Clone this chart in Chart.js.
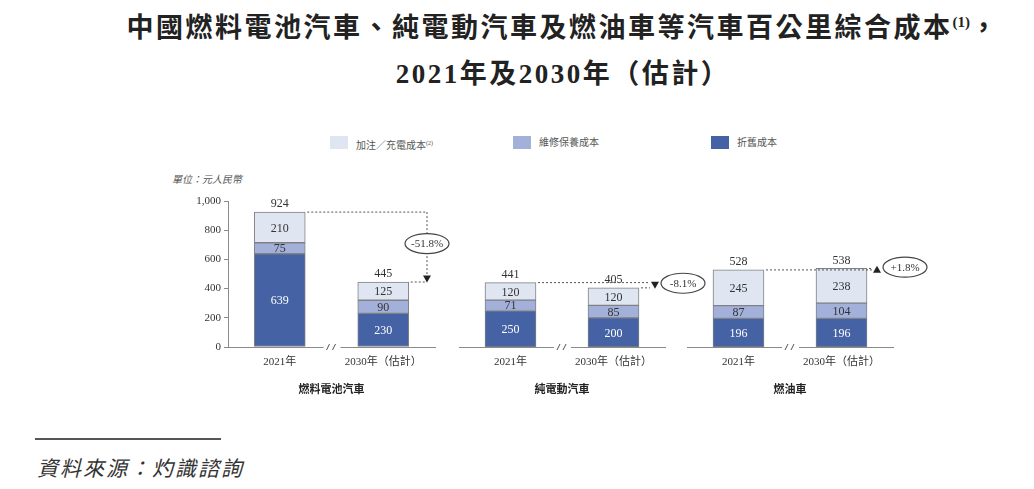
<!DOCTYPE html>
<html>
<head>
<meta charset="utf-8">
<script src="https://cdn.jsdelivr.net/npm/chart.js@4.4.1/dist/chart.umd.min.js"></script>
<style>
    body {
        margin: 0;
        width: 1034px;
        height: 489px;
        background: #fff;
        position: relative;
        overflow: hidden;
        font-family: "Liberation Serif", "Noto Sans CJK TC", serif;
        color: #222;
    }
    .title {
        position: absolute;
        left: 0;
        width: 1126px;
        text-align: center;
        font-size: 27px;
        font-weight: bold;
        letter-spacing: 2.5px;
        white-space: nowrap;
    }
    .title sup {
        font-size: 15px;
        letter-spacing: 0;
    }
    .legendItem {
        position: absolute;
        top: 136px;
        font-size: 10px;
        color: #555;
        white-space: nowrap;
        line-height: 14px;
    }
    .legendItem span.box {
        display: inline-block;
        width: 18px;
        height: 13px;
        vertical-align: top;
        margin-right: 8px;
    }
    .legendItem sup {
        font-size: 6px;
    }
    #unit {
        position: absolute;
        left: 172px;
        top: 171px;
        font-size: 10px;
        font-style: italic;
        color: #555;
    }
    canvas {
        position: absolute;
        top: 180px;
    }
    #footLine {
        position: absolute;
        left: 35px;
        top: 438px;
        width: 186px;
        height: 1.5px;
        background: #555;
    }
    #source {
        position: absolute;
        left: 37px;
        top: 452px;
        font-size: 21px;
        font-style: italic;
        letter-spacing: 2px;
        color: #333;
    }
</style>
</head>
<body>
<div class="title" style="top: 6px">中國燃料電池汽車、純電動汽車及燃油車等汽車百公里綜合成本<sup>(1)</sup>，</div>
<div class="title" style="top: 52px">2021年及2030年（估計）</div>

<div class="legendItem" style="left: 330px"><span class="box" style="background: #dfe5f1"></span>加注／充電成本<sup>(2)</sup></div>
<div class="legendItem" style="left: 513px"><span class="box" style="background: #a3b1da"></span>維修保養成本</div>
<div class="legendItem" style="left: 711px"><span class="box" style="background: #4563a4"></span>折舊成本</div>

<div id="unit">單位：元人民幣</div>

<canvas id="chart1" width="300" height="225" style="left: 160px"></canvas>
<canvas id="chart2" width="255" height="225" style="left: 459px"></canvas>
<canvas id="chart3" width="250" height="225" style="left: 687px"></canvas>

<div id="footLine"></div>
<div id="source">資料來源：灼識諮詢</div>

<script>
// values per vehicle type: [2021, 2030 estimate]
const yearLabels = ["2021年", "2030年（估計）"];
const groupNames = ["燃料電池汽車", "純電動汽車", "燃油車"];
const depreciationCost = [[639, 230], [250, 200], [196, 196]];
const maintenanceCost = [[75, 90], [71, 85], [87, 104]];
const refuelCost = [[210, 125], [120, 120], [245, 238]];
const totalCost = [[924, 445], [441, 405], [528, 538]];
const changeLabels = ["-51.8%", "-8.1%", "+1.8%"];
const yMax = 1000;
const yStep = 200;

const COLORS = {
    depreciation: "#4563a4",
    maintenance: "#a3b1da",
    refuel: "#dfe5f1",
    border: "#7f8185",
    axis: "#8a8a8a",
    text: "#333",
};

const NUM_FONT = '"Liberation Serif", "Noto Sans CJK TC", serif';

// layout of each panel (canvas pixels)
const panels = [
    { id: "chart1", showY: true, padRight: 25, arrow: "vertical", arrowOffset: 8 },
    { id: "chart2", showY: false, padRight: 49, arrow: "side", arrowOffset: 10 },
    { id: "chart3", showY: false, padRight: 44, arrow: "side", arrowOffset: 16 },
];

function drawOval(ctx, x, y, text) {
    ctx.save();
    ctx.setLineDash([]);
    ctx.beginPath();
    ctx.ellipse(x, y, 22, 10, 0, 0, Math.PI * 2);
    ctx.fillStyle = "#fff";
    ctx.fill();
    ctx.strokeStyle = "#444";
    ctx.lineWidth = 1.2;
    ctx.stroke();
    ctx.fillStyle = COLORS.text;
    ctx.font = `11px ${NUM_FONT}`;
    ctx.textAlign = "center";
    ctx.textBaseline = "middle";
    ctx.fillText(text, x, y + 1);
    ctx.restore();
}

function dottedLine(ctx, x1, y1, x2, y2) {
    ctx.save();
    ctx.setLineDash([2, 2]);
    ctx.strokeStyle = "#555";
    ctx.lineWidth = 1;
    ctx.beginPath();
    ctx.moveTo(x1, y1);
    ctx.lineTo(x2, y2);
    ctx.stroke();
    ctx.restore();
}

function triangle(ctx, x, y, down) {
    const d = down ? 1 : -1;
    ctx.save();
    ctx.fillStyle = "#222";
    ctx.beginPath();
    ctx.moveTo(x - 4, y - 3.5 * d);
    ctx.lineTo(x + 4, y - 3.5 * d);
    ctx.lineTo(x, y + 3.5 * d);
    ctx.closePath();
    ctx.fill();
    ctx.restore();
}

const costLabelsPlugin = {
    id: "costLabels",
    afterDatasetsDraw(chart) {
        const ctx = chart.ctx;
        const g = chart.options.plugins.costLabels.group;
        const panel = panels[g];
        const area = chart.chartArea;

        // segment values
        ctx.save();
        ctx.font = `12px ${NUM_FONT}`;
        ctx.textAlign = "center";
        ctx.textBaseline = "middle";
        chart.data.datasets.forEach((ds, i) => {
            const meta = chart.getDatasetMeta(i);
            meta.data.forEach((bar, j) => {
                ctx.fillStyle = ds.labelColor;
                ctx.fillText(ds.data[j], bar.x, (bar.y + bar.base) / 2 + 1);
            });
        });

        // totals above bars
        const topBars = chart.getDatasetMeta(chart.data.datasets.length - 1).data;
        ctx.fillStyle = COLORS.text;
        topBars.forEach((bar, j) => {
            ctx.fillText(totalCost[g][j], bar.x, bar.y - 8);
        });
        ctx.restore();

        // axis break "//"
        const bx = (topBars[0].x + topBars[1].x) / 2;
        const by = area.bottom;
        ctx.save();
        ctx.fillStyle = "#fff";
        ctx.fillRect(bx - 8, by - 3, 17, 6);
        ctx.strokeStyle = "#555";
        ctx.lineWidth = 1;
        ctx.beginPath();
        ctx.moveTo(bx - 5, by + 3);
        ctx.lineTo(bx - 2, by - 3);
        ctx.moveTo(bx + 1, by + 3);
        ctx.lineTo(bx + 4, by - 3);
        ctx.stroke();
        ctx.restore();

        // change annotation
        const b1 = topBars[0];
        const b2 = topBars[1];
        const y1 = b1.y;
        const y2 = b2.y;
        const ax = area.right - panel.arrowOffset;
        const down = totalCost[g][1] < totalCost[g][0];
        if (panel.arrow === "vertical") {
            dottedLine(ctx, b1.x + b1.width / 2 + 2, y1, ax, y1);
            dottedLine(ctx, b2.x + b2.width / 2 + 2, y2, ax, y2);
            dottedLine(ctx, ax, y1, ax, y2 - 6);
            triangle(ctx, ax, y2 - 3, down);
            drawOval(ctx, ax, y1 + (y2 - y1) * 0.45, changeLabels[g]);
        } else {
            dottedLine(ctx, b1.x + b1.width / 2 + 2, y1, ax - 5, y1);
            dottedLine(ctx, b2.x + b2.width / 2 + 2, y2, ax - 5, y2);
            const my = (y1 + y2) / 2;
            triangle(ctx, ax, my, down);
            drawOval(ctx, ax + 28, my - 2, changeLabels[g]);
        }
    },
};

function createPanel(panel, g) {
    const canvas = document.getElementById(panel.id);
    const yAxis = {
        display: panel.showY,
        stacked: true,
        min: 0,
        max: yMax,
        ticks: {
            stepSize: yStep,
            padding: 3,
            color: COLORS.text,
            font: { size: 11, family: NUM_FONT },
        },
        grid: {
            drawOnChartArea: false,
            drawTicks: true,
            tickLength: 4,
            color: COLORS.axis,
        },
        border: { display: true, color: COLORS.axis, width: 1 },
    };
    if (panel.showY) {
        yAxis.afterFit = (scale) => {
            scale.width = 68;
        };
    }
    return new Chart(canvas, {
        type: "bar",
        data: {
            labels: yearLabels,
            datasets: [
                {
                    label: "折舊成本",
                    data: depreciationCost[g],
                    backgroundColor: COLORS.depreciation,
                    labelColor: "#fff",
                },
                {
                    label: "維修保養成本",
                    data: maintenanceCost[g],
                    backgroundColor: COLORS.maintenance,
                    labelColor: COLORS.text,
                },
                {
                    label: "加注／充電成本",
                    data: refuelCost[g],
                    backgroundColor: COLORS.refuel,
                    labelColor: COLORS.text,
                },
            ],
        },
        options: {
            responsive: false,
            animation: false,
            layout: {
                padding: { top: 21, right: panel.padRight, bottom: 0, left: 0 },
            },
            datasets: {
                bar: {
                    barThickness: 51,
                    borderColor: COLORS.border,
                    borderWidth: 1,
                    borderSkipped: false,
                },
            },
            scales: {
                x: {
                    stacked: true,
                    grid: { display: false, drawTicks: false },
                    border: { display: true, color: COLORS.axis, width: 1 },
                    ticks: {
                        padding: 9,
                        color: COLORS.text,
                        autoSkip: false,
                        maxRotation: 0,
                        font: { size: 11, family: NUM_FONT },
                    },
                    title: {
                        display: true,
                        text: groupNames[g],
                        color: "#222",
                        padding: { top: 4, bottom: 8 },
                        font: { size: 11, weight: "bold", family: NUM_FONT },
                    },
                    afterFit: (scale) => {
                        scale.height = 58;
                    },
                },
                y: yAxis,
            },
            plugins: {
                legend: { display: false },
                tooltip: { enabled: false },
                costLabels: { group: g },
            },
        },
        plugins: [costLabelsPlugin],
    });
}

panels.forEach((panel, g) => createPanel(panel, g));
</script>
</body>
</html>
